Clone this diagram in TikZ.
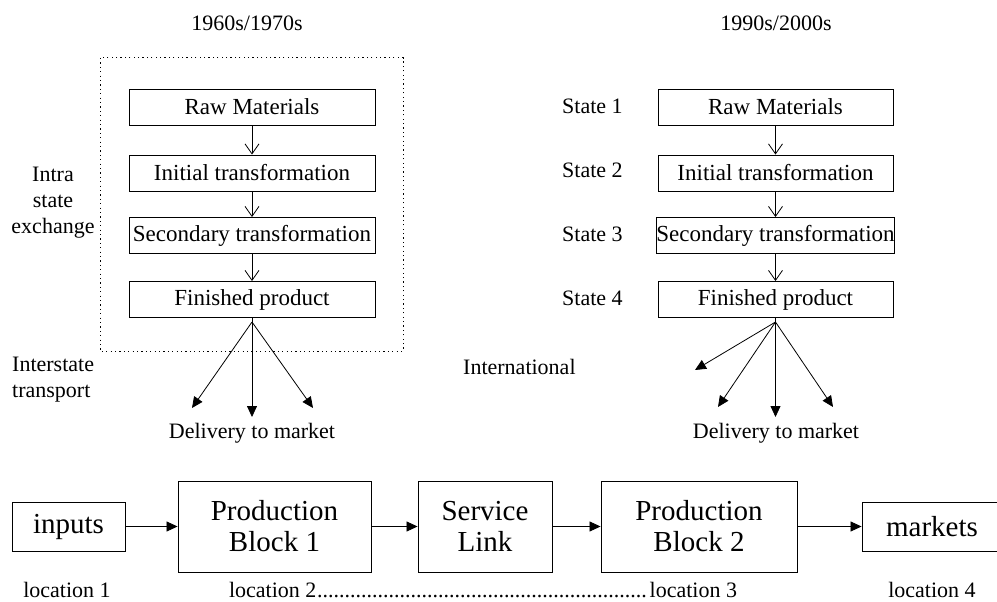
\documentclass[tikz,border=0pt]{standalone}
\usepackage{fontspec}
\setmainfont{Liberation Serif}
\usetikzlibrary{arrows.meta}
\tikzset{
  flowbox/.style={draw, line width=0.9pt, inner sep=0pt, minimum height=36pt, font=\fontsize{23}{27}\selectfont},
  bigbox/.style={draw, line width=0.9pt, inner sep=0pt, align=center, font=\fontsize{29}{31}\selectfont},
  lab/.style={inner sep=0pt, font=\fontsize{22}{26}\selectfont},
  openarrow/.style={line width=0.8pt, -{Straight Barb[length=10pt,width=14pt]}},
  solidarrow/.style={line width=0.8pt, -{Triangle[length=11pt,width=10pt]}},
  dotbox/.style={line width=1pt, dash pattern=on 1.2pt off 3.2pt}
}
\begin{document}
\begin{tikzpicture}[x=1pt,y=-1pt]
\clip (0,0) rectangle (997,602);
\useasboundingbox (0,0) rectangle (997,602);

% titles
\node[lab] (t1) at (247,23) {1960s/1970s};
\node[lab] (t2) at (776,23) {1990s/2000s};

% left column
\draw[dotbox] (100,58) rectangle (403,351);
\node[flowbox, minimum width=246pt] (l1) at (252,107) {Raw Materials};
\node[flowbox, minimum width=246pt] (l2) at (252,173) {Initial transformation};
\node[flowbox, minimum width=246pt] (l3) at (252,235.5) {Secondary transformation};
\node[flowbox, minimum width=246pt] (l4) at (252,299.5) {Finished product};
\draw[openarrow] (l1) -- (l2);
\draw[openarrow] (l2) -- (l3);
\draw[openarrow] (l3) -- (l4);

\node[lab, align=center] (intra) at (53,203) {Intra\\state\\exchange};
\node[lab, align=left, anchor=west] (inter) at (12,380) {Interstate\\transport};

\coordinate (lb) at (252,322);
\coordinate (le1) at (192,408);
\coordinate (le2) at (252,417);
\coordinate (le3) at (313,408);
\draw[line width=0.8pt] (l4.south) -- (lb);
\draw[solidarrow] (lb) -- (le1);
\draw[solidarrow] (lb) -- (le2);
\draw[solidarrow] (lb) -- (le3);
\node[lab] (dl) at (252,433) {Delivery to market};

% right column
\node[flowbox, minimum width=235pt] (r1) at (775.5,107) {Raw Materials};
\node[flowbox, minimum width=235pt] (r2) at (775.5,173) {Initial transformation};
\node[flowbox, minimum width=235pt] (r3) at (775.5,235.5) {Secondary transformation};
\node[flowbox, minimum width=235pt] (r4) at (775.5,299.5) {Finished product};
\draw[openarrow] (r1) -- (r2);
\draw[openarrow] (r2) -- (r3);
\draw[openarrow] (r3) -- (r4);

\node[lab, anchor=west] (s1) at (562,106) {State 1};
\node[lab, anchor=west] (s2) at (562,170) {State 2};
\node[lab, anchor=west] (s3) at (562,234) {State 3};
\node[lab, anchor=west] (s4) at (562,298) {State 4};
\node[lab, anchor=west] (intl) at (463,367) {International};

\coordinate (rb) at (775.5,322);
\coordinate (re1) at (695,370);
\coordinate (re2) at (718,407);
\coordinate (re3) at (775.5,417);
\coordinate (re4) at (833,407);
\draw[line width=0.8pt] (r4.south) -- (rb);
\draw[solidarrow] (rb) -- (re1);
\draw[solidarrow] (rb) -- (re2);
\draw[solidarrow] (rb) -- (re3);
\draw[solidarrow] (rb) -- (re4);
\node[lab] (dr) at (776,433) {Delivery to market};

% bottom chain
\node[bigbox, minimum width=113pt, minimum height=49pt] (inp) at (68.5,526.5) {inputs};
\node[bigbox, minimum width=193pt, minimum height=91pt] (pb1) at (274.5,526.5) {Production\\Block 1};
\node[bigbox, minimum width=134pt, minimum height=91pt] (sl) at (485,526.5) {Service\\Link};
\node[bigbox, minimum width=196pt, minimum height=91pt] (pb2) at (699,526.5) {Production\\Block 2};
\node[bigbox, minimum width=140pt, minimum height=49pt] (mk) at (932,526.5) {markets};
\draw[solidarrow] (inp) -- (pb1);
\draw[solidarrow] (pb1) -- (sl);
\draw[solidarrow] (sl) -- (pb2);
\draw[solidarrow] (pb2) -- (mk);

\node[lab, anchor=base] (loc1) at (67,597) {location 1};
\node[lab, anchor=base] (loc23) at (483,597) {\makebox[508pt]{location 2\leaders\hbox{.}\hfill location 3}};
\node[lab, anchor=base] (loc4) at (932,597) {location 4};
\end{tikzpicture}
\end{document}
